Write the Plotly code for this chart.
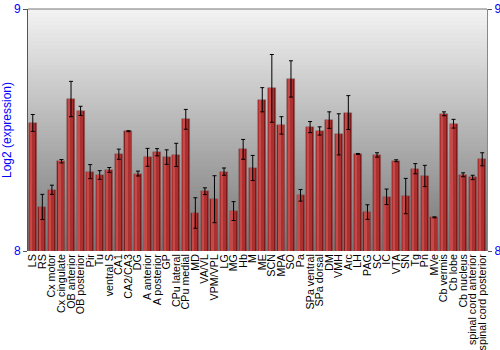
import plotly.graph_objects as go

regions = ["LS", "RS", "Cx motor", "Cx cingulate", "OB anterior", "OB posterior", "Pir", "Tu",
           "ventral S", "CA1", "CA2/CA3", "DG", "A anterior", "A posterior", "GP", "CPu lateral",
           "CPu medial", "MD", "VA/VL", "VPM/VPL", "LG", "MG", "Hb", "M", "ME", "SCN", "MPA", "SO",
           "Pa", "SPa ventral", "SPa dorsal", "DM", "VMH", "Arc", "LH", "PAG", "SC", "IC", "VTA",
           "SN", "Tg", "Pn", "MVe", "Cb vermis", "Cb lobe", "Cb nucleus", "spinal cord anterior",
           "spinal cord posterior"]

expression = [8.529, 8.182, 8.253, 8.371, 8.628, 8.579, 8.328, 8.314,
              8.335, 8.400, 8.495, 8.320, 8.387, 8.408, 8.388, 8.397,
              8.544, 8.157, 8.247, 8.214, 8.328, 8.165, 8.420, 8.343, 8.625, 8.672, 8.519, 8.711,
              8.230, 8.512, 8.496, 8.541, 8.482, 8.572, 8.401, 8.161, 8.397, 8.224, 8.373,
              8.227, 8.340, 8.310, 8.139, 8.567, 8.526, 8.315, 8.304,
              8.379]

error = [0.035, 0.052, 0.019, 0.007, 0.073, 0.019, 0.029, 0.018,
         0.010, 0.021, 0.002, 0.010, 0.037, 0.015, 0.030, 0.048,
         0.041, 0.063, 0.014, 0.097, 0.015, 0.039, 0.041, 0.052, 0.050, 0.140, 0.036, 0.075,
         0.024, 0.023, 0.017, 0.034, 0.085, 0.070, 0.002, 0.030, 0.009, 0.032, 0.004,
         0.073, 0.021, 0.044, 0.002, 0.008, 0.018, 0.008, 0.009,
         0.027]

y_ticks = [8, 9]
y_title = "Log2 (expression)"

fig = go.Figure()

fig.add_trace(go.Bar(x=regions, y=expression, width=0.84, offset=-0.42,
                     marker=dict(color="#7c1a1a", line=dict(color="rgba(140,120,120,0.7)", width=0.6)),
                     hoverinfo="skip", showlegend=False))
fig.add_trace(go.Bar(x=regions, y=expression, width=0.62, offset=-0.40,
                     marker=dict(color="#ad3030", line=dict(width=0)),
                     hoverinfo="skip", showlegend=False))
fig.add_trace(go.Bar(x=regions, y=expression, width=0.24, offset=-0.33,
                     marker=dict(color="#c44a4a", line=dict(width=0)),
                     hoverinfo="skip", showlegend=False))
fig.add_trace(go.Scatter(x=regions, y=expression, mode="markers",
                         marker=dict(size=0.1, color="rgba(0,0,0,0)"),
                         error_y=dict(type="data", array=error, color="black", thickness=1, width=2),
                         hoverinfo="skip", showlegend=False))
fig.add_trace(go.Scatter(x=[regions[0]], y=[8.5], yaxis="y2", mode="markers",
                         marker=dict(color="rgba(0,0,0,0)"), hoverinfo="skip", showlegend=False))

n = 60
shapes = []
for i in range(n):
    t = i / (n - 1)
    c = int(round(242 - (242 - 118) * t))
    shapes.append(dict(type="rect", xref="paper", yref="paper", x0=0, x1=1,
                       y0=max(0.0, 1 - (i + 1.6) / n), y1=1 - i / n, layer="below",
                       fillcolor=f"rgb({c},{c},{c})", line=dict(width=0)))

fig.update_layout(
    width=500, height=350,
    margin=dict(l=28, r=13, t=9, b=99, autoexpand=False),
    paper_bgcolor="white", plot_bgcolor="rgba(0,0,0,0)",
    barmode="overlay", bargap=0,
    shapes=shapes,
    font=dict(family="Liberation Sans, Arial, sans-serif", size=10.7, color="black"),
    xaxis=dict(type="category", tickangle=-90, ticks="", showgrid=False,
               showline=False, tickfont=dict(size=10.7, color="black"),
               tickmode="array", tickvals=regions, ticktext=regions,
               automargin=False, range=[-0.5, len(regions) - 0.5]),
    yaxis=dict(range=[8, 9], tickvals=y_ticks, ticktext=[str(v) for v in y_ticks],
               showgrid=False, zeroline=False, showline=True, linecolor="#555555",
               ticks="outside", ticklen=4, tickcolor="#555555", automargin=False,
               tickfont=dict(size=12, color="#0000ff"),
               title=dict(text=y_title, font=dict(size=12, color="#0000ff"), standoff=2)),
    yaxis2=dict(range=[8, 9], overlaying="y", side="right", tickvals=y_ticks,
                showgrid=False, zeroline=False, showline=True, linecolor="#888888",
                ticks="outside", ticklen=4, tickcolor="#555555", automargin=False,
                tickfont=dict(size=12, color="#0000ff")),
)
fig.add_shape(type="line", xref="paper", yref="paper", x0=0, x1=1, y0=1, y1=1,
              line=dict(color="#777777", width=1))

fig.write_html("out.html")
